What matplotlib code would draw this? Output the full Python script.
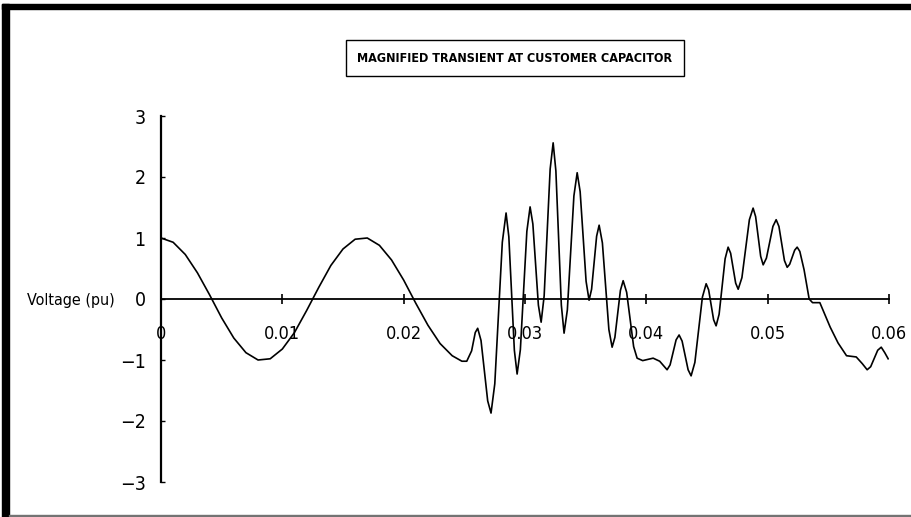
import matplotlib
matplotlib.use("Agg")
import matplotlib.pyplot as plt
from matplotlib.patches import Rectangle

plt.rcParams['font.family'] = ['DejaVu Sans']
plt.rcParams['font.stretch'] = 'condensed'

# time (ms) and voltage (pu)
t_ms = [0.0, 1.0, 2.0, 3.0, 4.0, 5.0, 6.0, 7.0, 8.0, 9.0, 10.0, 11.0, 12.0,
        13.0, 14.0, 15.0, 16.0, 17.0, 18.0, 19.0, 20.0, 21.0, 22.0, 23.0, 24.0,
        24.8, 25.2, 25.6, 25.9, 26.1,
        26.375, 26.65, 26.925, 27.2,
        27.51, 27.82, 28.13, 28.44,
        28.668, 28.895, 29.123, 29.35,
        29.618, 29.885, 30.153, 30.42,
        30.648, 30.875, 31.103, 31.33,
        31.578, 31.825, 32.073, 32.32,
        32.545, 32.77, 32.995, 33.22,
        33.49, 33.76, 34.03, 34.3,
        34.545, 34.79, 35.035, 35.28,
        35.488, 35.695, 35.903, 36.11,
        36.378, 36.645, 36.913, 37.18,
        37.408, 37.635, 37.863, 38.09,
        38.378, 38.665, 38.953, 39.24, 39.7, 40.56, 41.1, 41.71,
        41.958, 42.205, 42.453, 42.7,
        42.948, 43.195, 43.443, 43.69,
        44.0, 44.31, 44.62, 44.93,
        45.135, 45.34, 45.545, 45.75,
        45.998, 46.245, 46.493, 46.74,
        46.948, 47.155, 47.363, 47.57,
        47.878, 48.185, 48.493, 48.8,
        49.008, 49.215, 49.423, 49.63,
        49.898, 50.165, 50.433, 50.7,
        50.928, 51.155, 51.383, 51.61,
        51.815, 52.02, 52.225, 52.43,
        52.65, 53.0, 53.42, 53.7, 54.3, 55.15, 55.8, 56.5, 57.3, 57.8, 58.2,
        58.49, 58.78, 59.07, 59.36, 59.65, 59.93]
volts = [1.00, 0.93, 0.73, 0.43, 0.07, -0.31, -0.64, -0.88, -1.00, -0.98, -0.82, -0.55, -0.19,
         0.19, 0.55, 0.82, 0.98, 1.00, 0.88, 0.64, 0.31, -0.07, -0.43, -0.73, -0.93,
         -1.02, -1.02, -0.85, -0.55, -0.48,
         -0.68, -1.175, -1.67, -1.87,
         -1.39, -0.23, 0.93, 1.41,
         1.02, 0.09, -0.84, -1.23,
         -0.83, 0.14, 1.11, 1.51,
         1.23, 0.565, -0.10, -0.38,
         0.05, 1.09, 2.13, 2.56,
         2.10, 1.00, -0.10, -0.56,
         -0.18, 0.755, 1.69, 2.07,
         1.76, 1.025, 0.29, -0.02,
         0.16, 0.595, 1.03, 1.21,
         0.92, 0.21, -0.50, -0.79,
         -0.63, -0.245, 0.14, 0.30,
         0.11, -0.335, -0.78, -0.97, -1.01, -0.97, -1.02, -1.16,
         -1.08, -0.875, -0.67, -0.59,
         -0.69, -0.925, -1.16, -1.26,
         -1.04, -0.505, 0.03, 0.25,
         0.15, -0.095, -0.34, -0.44,
         -0.25, 0.205, 0.66, 0.85,
         0.75, 0.505, 0.26, 0.16,
         0.35, 0.825, 1.30, 1.49,
         1.35, 1.025, 0.70, 0.56,
         0.67, 0.93, 1.19, 1.30,
         1.19, 0.91, 0.63, 0.52,
         0.57, 0.685, 0.80, 0.85,
         0.78, 0.48, 0.0, -0.06, -0.06, -0.46, -0.72, -0.93, -0.95, -1.06, -1.16,
         -1.11, -0.975, -0.84, -0.79, -0.88, -0.98]
t = [v / 1000.0 for v in t_ms]

x_ticks = [0, 0.01, 0.02, 0.03, 0.04, 0.05, 0.06]
x_labels = ["0", "0.01", "0.02", "0.03", "0.04", "0.05", "0.06"]
y_ticks = [-3, -2, -1, 0, 1, 2, 3]
y_labels = ["\u22123", "\u22122", "\u22121", "0", "1", "2", "3"]

W, H = 911, 517
fig = plt.figure(figsize=(W / 100, H / 100), dpi=100)

# scanned page frame
fig.patches.append(Rectangle((2 / W, 0), 7 / W, 1 - 4 / H, transform=fig.transFigure,
                             color='black', zorder=0))
fig.patches.append(Rectangle((2 / W, 1 - 9 / H), 1 - 2 / W, 5 / H, transform=fig.transFigure,
                             color='black', zorder=0))
fig.patches.append(Rectangle((9 / W, 1 / H), 1 - 9 / W, 1.5 / H, transform=fig.transFigure,
                             color='0.45', zorder=0))

ax = fig.add_axes([161 / W, 35 / H, 728 / W, 366 / H])
ax.plot(t, volts, color='black', lw=1.2)
ax.set_xlim(0, 0.06)
ax.set_ylim(-3, 3)

ax.spines['left'].set_position(('data', 0))
ax.spines['bottom'].set_position(('data', 0))
ax.spines['right'].set_visible(False)
ax.spines['top'].set_visible(False)
ax.spines['left'].set_linewidth(1.6)
ax.spines['bottom'].set_linewidth(1.3)

ax.set_xticks(x_ticks)
ax.set_xticklabels(x_labels)
ax.set_yticks(y_ticks)
ax.set_yticklabels(y_labels)
ax.tick_params(axis='x', direction='inout', length=7, width=1.2, pad=15, labelsize=13)
ax.tick_params(axis='y', direction='in', length=3, width=1.0, pad=11, labelsize=14)
ax.patch.set_visible(False)

fig.text(27 / W, 1 - 300 / H, "Voltage (pu)", fontsize=11.5, va='center', ha='left')

fig.text(515 / W, 1 - 58 / H, "MAGNIFIED TRANSIENT AT CUSTOMER CAPACITOR",
         fontsize=9, fontweight='bold', ha='center', va='center',
         bbox=dict(boxstyle='square,pad=0.9', fc='white', ec='black', lw=1.0))

fig.savefig("out.png", dpi=100)
